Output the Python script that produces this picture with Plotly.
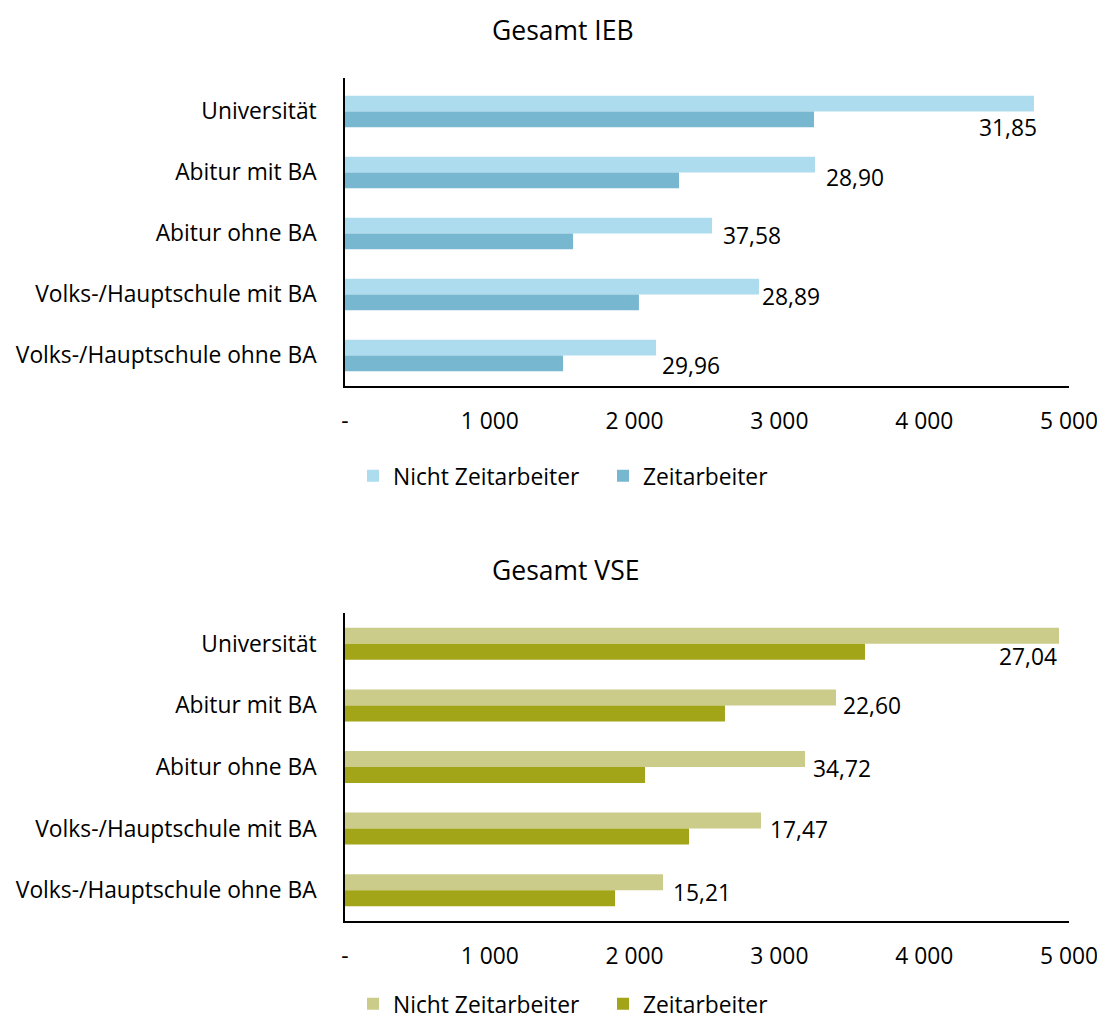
import plotly.graph_objects as go

categories = ["Universität", "Abitur mit BA", "Abitur ohne BA",
              "Volks-/Hauptschule mit BA", "Volks-/Hauptschule ohne BA"]

ieb_nicht = [4758, 3246, 2535, 2859, 2148]
ieb_zeit = [3239, 2307, 1575, 2030, 1506]
ieb_labels = ["31,85", "28,90", "37,58", "28,89", "29,96"]

vse_nicht = [4931, 3391, 3177, 2873, 2196]
vse_zeit = [3591, 2624, 2072, 2376, 1865]
vse_labels = ["27,04", "22,60", "34,72", "17,47", "15,21"]

tick_vals = [0, 1000, 2000, 3000, 4000, 5000]
tick_text = ["-", "1 000", "2 000", "3 000", "4 000", "5 000"]

series_names = ["Nicht Zeitarbeiter", "Zeitarbeiter"]

# label placement (style): (xanchor, xshift, yshift)
ieb_label_pos = [("right", 5, -16), ("left", 9, -5), ("left", 9, -2), ("left", 1, -2), ("left", 4, -10)]
vse_label_pos = [("right", 0, -13), ("left", 5, 0), ("left", 6, -1), ("left", 7, -1), ("left", 8, -2)]

FONT = "Open Sans"
FS = 22.8
OFF = 8  # browser body margin

fig = go.Figure()

colors_top = ["#ADDCEE", "#78B7D0"]
colors_bot = ["#CBCC8A", "#A2A518"]

for name, vals, col in zip(series_names, [ieb_nicht, ieb_zeit], colors_top):
    fig.add_trace(go.Bar(y=categories, x=vals, orientation="h", name=name,
                         marker=dict(color=col, line=dict(width=0)),
                         xaxis="x", yaxis="y", legend="legend"))
for name, vals, col in zip(series_names, [vse_nicht, vse_zeit], colors_bot):
    fig.add_trace(go.Bar(y=categories, x=vals, orientation="h", name=name,
                         marker=dict(color=col, line=dict(width=0)),
                         xaxis="x2", yaxis="y2", legend="legend2"))

annotations = []
for cat, v, lab, (xa, xs, ys) in zip(categories, ieb_nicht, ieb_labels, ieb_label_pos):
    annotations.append(dict(x=v, y=cat, xref="x", yref="y", text=lab, showarrow=False,
                            xanchor=xa, yanchor="middle", xshift=xs, yshift=ys,
                            font=dict(size=FS, color="#000000")))
for cat, v, lab, (xa, xs, ys) in zip(categories, vse_nicht, vse_labels, vse_label_pos):
    annotations.append(dict(x=v, y=cat, xref="x2", yref="y2", text=lab, showarrow=False,
                            xanchor=xa, yanchor="middle", xshift=xs, yshift=ys,
                            font=dict(size=FS, color="#000000")))

W, H = 1105 - OFF, 1021 - OFF
L, R, T, B = 345 - OFF, 1105 - 1069, 78 - OFF, 1021 - 921
ph = H - T - B
pw = W - L - R

def px_x(p):
    return (p - OFF - L) / pw

def px_y(p):
    return (H - B - (p - OFF)) / ph

top_dom = [px_y(386), 1.0]
bot_dom = [0.0, px_y(613)]

annotations.append(dict(text="Gesamt IEB", x=px_x(563), y=px_y(30), xref="paper", yref="paper",
                        xanchor="center", yanchor="middle", showarrow=False,
                        font=dict(size=26.5, color="#000000")))
annotations.append(dict(text="Gesamt VSE", x=px_x(565), y=px_y(570), xref="paper", yref="paper",
                        xanchor="center", yanchor="middle", showarrow=False,
                        font=dict(size=26.5, color="#000000")))

axis_common_x = dict(range=[0, 5000], tickvals=tick_vals, ticktext=tick_text,
                     showgrid=False, zeroline=False, showline=True, linecolor="#000000",
                     linewidth=1.5, ticks="", ticklabelstandoff=14,
                     tickfont=dict(size=FS, color="#000000"), fixedrange=True)
axis_common_y = dict(autorange="reversed", showgrid=False, showline=True,
                     linecolor="#000000", linewidth=1.5, ticks="", ticklabelstandoff=22,
                     tickfont=dict(size=FS, color="#000000"))

fig.update_layout(
    width=W, height=H,
    margin=dict(l=L, r=R, t=T, b=B, autoexpand=False),
    paper_bgcolor="white", plot_bgcolor="white",
    font=dict(family=FONT, size=FS, color="#000000"),
    barmode="group", bargap=0.48, bargroupgap=0,
    xaxis=dict(domain=[0, 1], anchor="y", **axis_common_x),
    yaxis=dict(domain=top_dom, anchor="x", **axis_common_y),
    xaxis2=dict(domain=[0, 1], anchor="y2", **axis_common_x),
    yaxis2=dict(domain=bot_dom, anchor="x2", **axis_common_y),
    legend=dict(orientation="h", x=px_x(353), y=px_y(476), xanchor="left", yanchor="middle",
                font=dict(size=FS), bgcolor="rgba(0,0,0,0)", itemclick=False, entrywidth=205),
    legend2=dict(orientation="h", x=px_x(353), y=px_y(1004), xanchor="left", yanchor="middle",
                 font=dict(size=FS), bgcolor="rgba(0,0,0,0)", itemclick=False, entrywidth=205),
    annotations=annotations,
)

fig.write_html("out.html")
